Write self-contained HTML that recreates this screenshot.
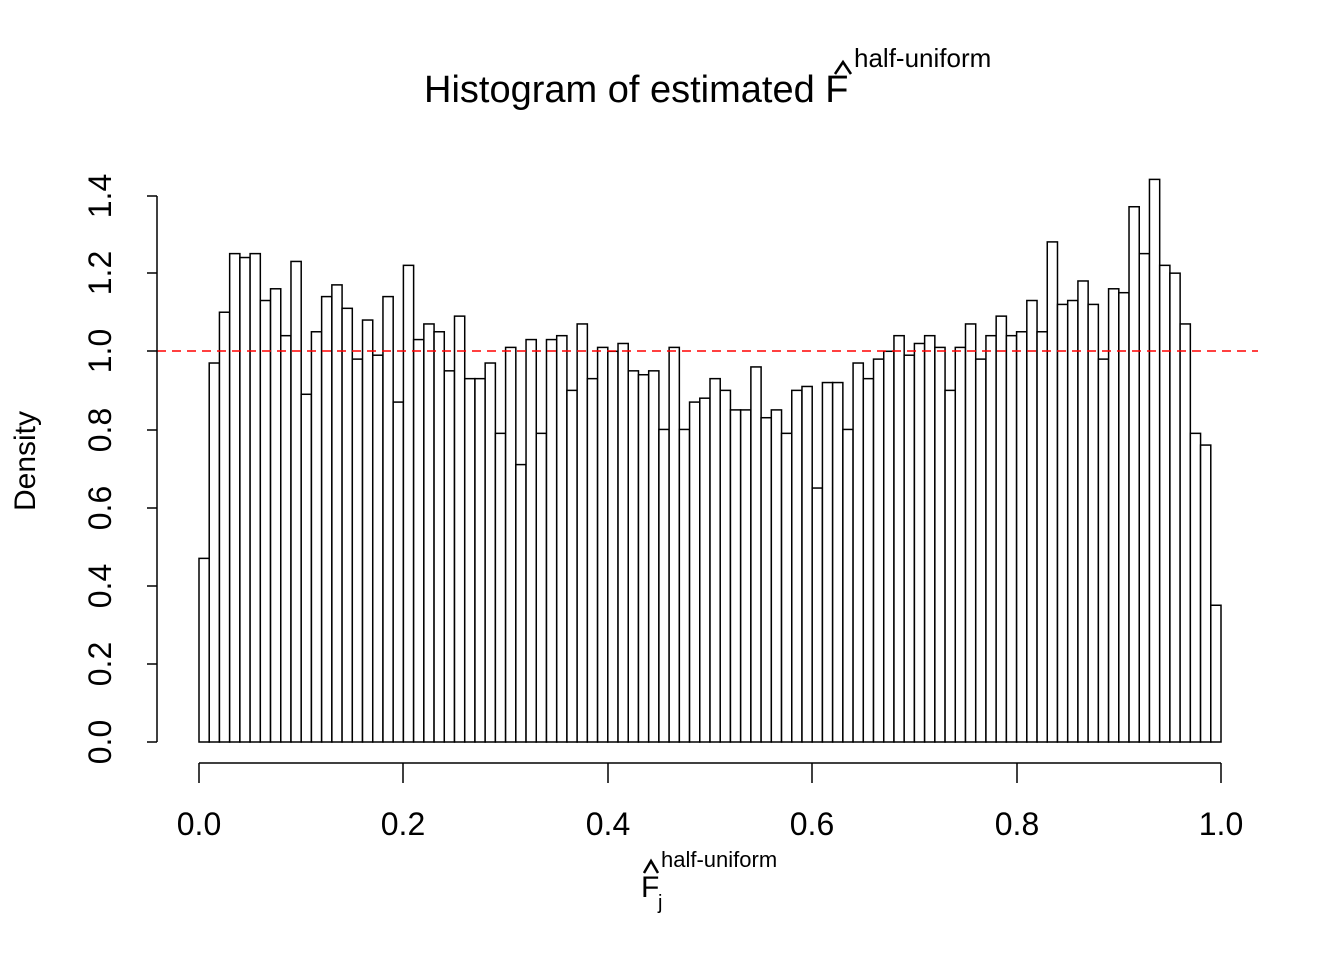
<!DOCTYPE html>
<html><head><meta charset="utf-8"><style>
body{margin:0;background:#fff}
svg{display:block;font-family:"Liberation Sans",Arial,sans-serif}
</style></head><body>
<svg id="s" width="1344" height="960" xmlns="http://www.w3.org/2000/svg">
<rect width="1344" height="960" fill="#fff"/>
<g id="bars" fill="#fff" stroke="#000" stroke-width="1.5"></g>
<line x1="157" y1="351" x2="1258" y2="351" stroke="#ff0000" stroke-width="1.5" stroke-dasharray="9,6"/>
<g stroke="#000" stroke-width="1.5" fill="none">
<line x1="157" y1="196" x2="157" y2="742"/>
<line x1="147" y1="742" x2="157" y2="742"/><line x1="147" y1="664" x2="157" y2="664"/>
<line x1="147" y1="586" x2="157" y2="586"/><line x1="147" y1="508" x2="157" y2="508"/>
<line x1="147" y1="430" x2="157" y2="430"/><line x1="147" y1="351" x2="157" y2="351"/>
<line x1="147" y1="273" x2="157" y2="273"/><line x1="147" y1="196" x2="157" y2="196"/>
<line x1="199" y1="763" x2="1221" y2="763"/>
<line x1="199" y1="763" x2="199" y2="783"/><line x1="403" y1="763" x2="403" y2="783"/>
<line x1="608" y1="763" x2="608" y2="783"/><line x1="812" y1="763" x2="812" y2="783"/>
<line x1="1017" y1="763" x2="1017" y2="783"/><line x1="1221" y1="763" x2="1221" y2="783"/>
<polyline points="835,74 843,62 851,74" stroke-width="2.5"/>
<polyline points="644,873 651,861 658,873" stroke-width="2.5"/>
</g>
<g font-size="32" text-anchor="middle" fill="#000">
<text x="199" y="835">0.0</text><text x="403" y="835">0.2</text><text x="608" y="835">0.4</text>
<text x="812" y="835">0.6</text><text x="1017" y="835">0.8</text><text x="1221" y="835">1.0</text>
<text transform="translate(111,742) rotate(-90)">0.0</text>
<text transform="translate(111,664) rotate(-90)">0.2</text>
<text transform="translate(111,586) rotate(-90)">0.4</text>
<text transform="translate(111,508) rotate(-90)">0.6</text>
<text transform="translate(111,430) rotate(-90)">0.8</text>
<text transform="translate(111,351) rotate(-90)">1.0</text>
<text transform="translate(111,273) rotate(-90)">1.2</text>
<text transform="translate(111,196) rotate(-90)">1.4</text>
<text transform="translate(35,461) rotate(-90)" font-size="30">Density</text>
</g>
<text x="424" y="102" font-size="38">Histogram of estimated F</text>
<text x="854" y="67" font-size="26">half-uniform</text>
<text x="641" y="897" font-size="30">F</text>
<text x="658" y="909" font-size="20">j</text>
<text x="661" y="867" font-size="22">half-uniform</text>
</svg>
<script>
var h=[0.47,0.97,1.10,1.25,1.24,1.25,1.13,1.16,1.04,1.23,0.89,1.05,1.14,1.17,1.11,0.98,1.08,0.99,1.14,0.87,1.22,1.03,1.07,1.05,0.95,1.09,0.93,0.93,0.97,0.79,1.01,0.71,1.03,0.79,1.03,1.04,0.90,1.07,0.93,1.01,1.00,1.02,0.95,0.94,0.95,0.80,1.01,0.80,0.87,0.88,0.93,0.90,0.85,0.85,0.96,0.83,0.85,0.79,0.90,0.91,0.65,0.92,0.92,0.80,0.97,0.93,0.98,1.00,1.04,0.99,1.02,1.04,1.01,0.90,1.01,1.07,0.98,1.04,1.09,1.04,1.05,1.13,1.05,1.28,1.12,1.13,1.18,1.12,0.98,1.16,1.15,1.37,1.25,1.44,1.22,1.20,1.07,0.79,0.76,0.35];
var g=document.getElementById('bars'),ns='http://www.w3.org/2000/svg',w=10.22;
for(var i=0;i<h.length;i++){var r=document.createElementNS(ns,'rect');var y=742-h[i]*390.7;
r.setAttribute('x',199+i*w);r.setAttribute('y',y);r.setAttribute('width',w);r.setAttribute('height',742-y);g.appendChild(r);}
</script>
</body></html>
